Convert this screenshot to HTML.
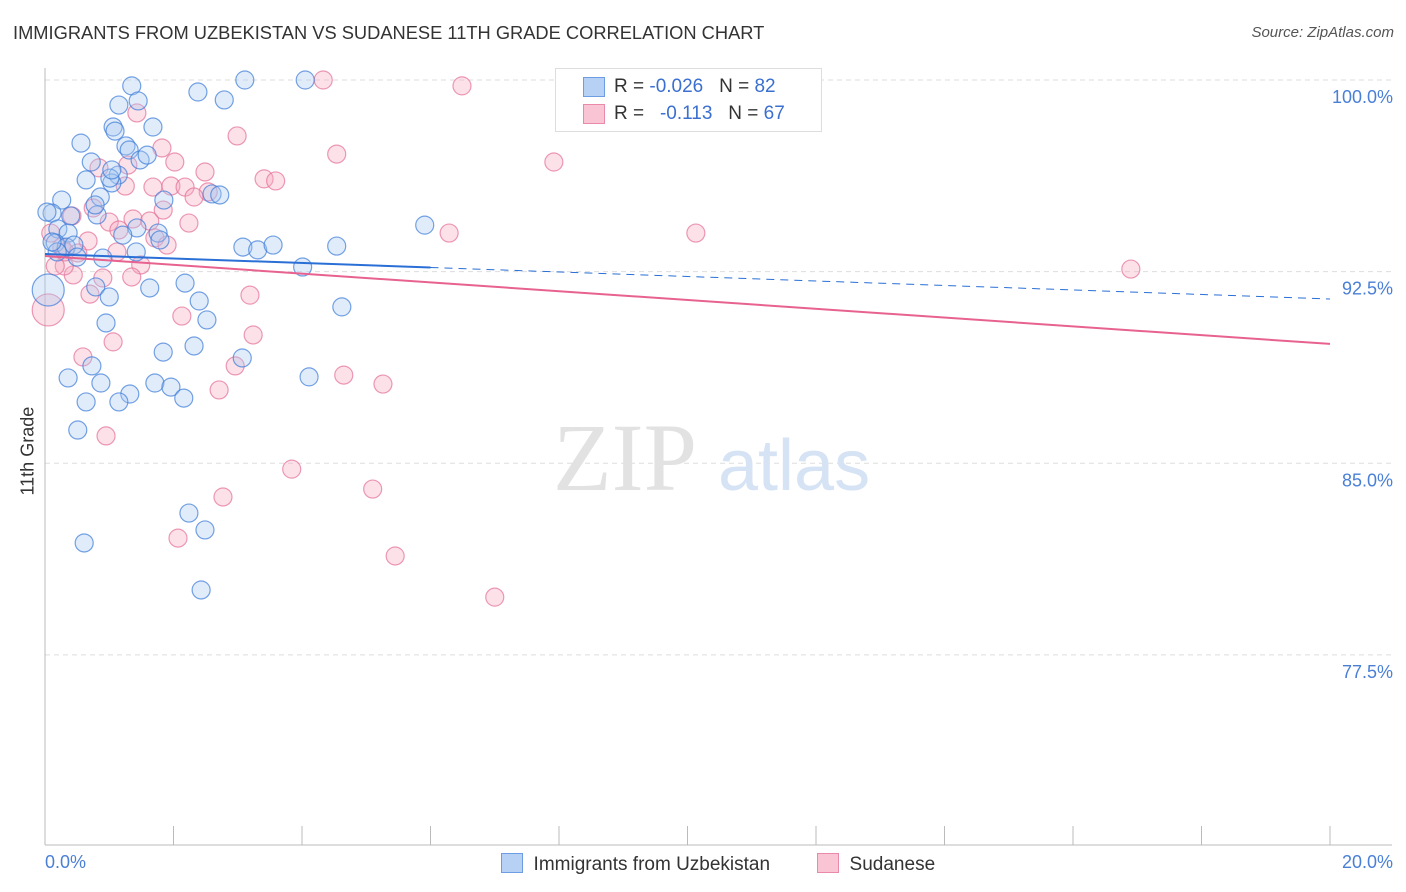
<!DOCTYPE html>
<html><head><meta charset="utf-8"><style>
body{margin:0;background:#fff;font-family:"Liberation Sans",sans-serif;}
#wrap{position:relative;width:1406px;height:892px;overflow:hidden;}
.t{position:absolute;white-space:nowrap;}
</style></head><body>
<div id="wrap">
<div class="t" style="left:13px;top:22px;font-size:18.3px;color:#333;">IMMIGRANTS FROM UZBEKISTAN VS SUDANESE 11TH GRADE CORRELATION CHART</div>
<div class="t" style="right:12px;top:24px;font-size:15px;color:#555;font-style:italic;">Source: ZipAtlas.com</div>
<svg id="svg" width="1406" height="892" style="position:absolute;left:0;top:0"></svg>
</div>
<script>
const xTicks=[0,2,4,6,8,10,12,14,16,18,20];
const yTicks=[100,92.5,85,77.5];
const yTickLabels=["100.0%","92.5%","85.0%","77.5%"];
const blueX=[1.35,2.38,2.79,3.11,4.05,1.45,1.15,1.06,1.09,1.68,0.56,1.26,1.31,1.48,1.59,0.72,1.14,1.04,0.64,0.86,1.85,2.60,2.72,0.26,0.11,0.81,0.40,1.43,1.76,1.21,0.20,0.36,0.16,0.33,0.45,0.19,0.50,0.90,1.42,3.08,3.31,3.55,4.54,5.91,4.01,2.18,2.40,1.63,0.79,1.00,2.52,0.95,4.62,1.84,2.32,3.07,0.73,0.36,0.87,1.71,1.96,1.32,1.15,2.16,0.64,4.11,0.51,0.61,2.24,2.49,2.43,0.03,0.11,0.05,0.78,1.01,1.04,1.79];
const blueY=[99.77,99.53,99.22,100.0,100.0,99.18,99.02,98.16,98.00,98.16,97.53,97.42,97.26,96.87,97.06,96.79,96.28,95.97,96.09,95.42,95.30,95.54,95.50,95.30,94.79,94.72,94.68,94.21,94.01,93.93,94.17,94.01,93.62,93.46,93.54,93.27,93.07,93.03,93.27,93.46,93.35,93.54,93.50,94.32,92.68,92.05,91.35,91.86,91.90,91.51,90.61,90.49,91.12,89.35,89.59,89.12,88.81,88.34,88.14,88.14,87.98,87.71,87.40,87.55,87.40,88.38,86.30,81.88,83.05,82.39,80.04,94.83,93.66,91.78,95.11,96.16,96.48,93.74];
const blueBig=[73];
const pinkX=[4.33,6.49,1.43,2.99,4.54,7.92,1.82,2.02,0.84,1.29,2.49,3.41,3.59,1.25,1.68,1.96,2.18,2.54,1.84,2.32,0.75,0.42,1.00,1.37,1.63,2.24,1.15,1.71,1.90,0.67,6.29,10.13,0.26,0.51,1.12,1.49,0.90,0.44,0.30,0.70,1.35,2.13,3.19,3.24,0.59,1.06,2.96,4.65,5.26,2.71,0.95,3.84,2.77,5.10,2.07,5.45,7.00,16.90,0.05,0.16,0.31,0.09];
const pinkY=[100.0,99.77,98.71,97.81,97.10,96.79,97.34,96.79,96.56,96.67,96.40,96.13,96.05,95.85,95.81,95.85,95.81,95.62,94.91,95.42,94.99,94.68,94.44,94.56,94.48,94.40,94.13,93.82,93.54,93.70,94.01,94.01,93.46,93.23,93.27,92.76,92.25,92.37,92.72,91.62,92.29,90.76,91.58,90.02,89.16,89.75,88.81,88.45,88.10,87.87,86.07,84.77,83.68,83.99,82.07,81.37,79.76,92.60,91.00,92.72,93.27,94.01];
const pinkBig=[58];
const blueTrend=[93.19,91.43];
const pinkTrend=[93.11,89.67];
const blueSolidEnd=6.0;

const X=v=>45+v/20*1285;
const Y=v=>80+(100-v)*25.55;
const svg=document.getElementById('svg');
const NS='http://www.w3.org/2000/svg';
function mk(tag,attrs,parent){const e=document.createElementNS(NS,tag);for(const k in attrs)e.setAttribute(k,attrs[k]);(parent||svg).appendChild(e);return e;}

yTicks.forEach((t,i)=>{
 const g=mk('line',{x1:45,x2:1392,y1:Y(t),y2:Y(t),stroke:'#ddd','stroke-dasharray':'5,4'});
 
 
 const tx=mk('text',{x:1393,y:Y(t)+23,'text-anchor':'end','font-size':18,fill:'#4a7fd6','font-family':'Liberation Sans, sans-serif'});
 tx.textContent=yTickLabels[i];
 
 
});
const ax=mk('line',{x1:45,x2:45,y1:68,y2:845,stroke:'#bbb'});


const bx=mk('line',{x1:45,x2:1392,y1:845,y2:845,stroke:'#bbb'});


xTicks.forEach(t=>{
 const l=mk('line',{x1:X(t),x2:X(t),y1:826,y2:845,stroke:'#bbb'});
 
 
});
const wm=mk('text',{x:553,y:490,'font-size':96,fill:'#e2e2e2','font-family':'Liberation Serif, serif'});wm.textContent='ZIP';


const wm2=mk('text',{x:718,y:490,'font-size':72,fill:'#d6e3f5','font-family':'Liberation Sans, sans-serif'});wm2.textContent='atlas';



function pts(xs,ys,big,fill,stroke,name){
 xs.forEach((x,i)=>{
  const r=big.includes(i)?16:9;
  const c=mk('circle',{cx:X(x),cy:Y(ys[i]),r:r,fill:fill,'fill-opacity':0.35,stroke:stroke,'stroke-opacity':0.7,'stroke-width':1.2});
  
  
 });
}
pts(pinkX,pinkY,pinkBig,'#f7a8c0','#e46f97','point-sudanese');
pts(blueX,blueY,blueBig,'#a9c8f2','#3b7ad8','point-uzbekistan');

const ty=(tr,x)=>tr[0]+(tr[1]-tr[0])*x/20;
const pl=mk('line',{x1:X(0),y1:Y(pinkTrend[0]),x2:X(20),y2:Y(pinkTrend[1]),stroke:'#e8628f','stroke-width':2});


const bl=mk('line',{x1:X(0),y1:Y(blueTrend[0]),x2:X(blueSolidEnd),y2:Y(ty(blueTrend,blueSolidEnd)),stroke:'#2a6fd6','stroke-width':2});


const bd=mk('line',{x1:X(blueSolidEnd),y1:Y(ty(blueTrend,blueSolidEnd)),x2:X(20),y2:Y(blueTrend[1]),stroke:'#2a6fd6','stroke-width':1,'stroke-dasharray':'8,6'});


</script>
<div class="t" style="left:-12px;top:445px;font-size:18px;color:#333;transform:rotate(-90deg);transform-origin:center;width:80px;text-align:center;">11th Grade</div>
<div class="t" style="left:45px;top:852px;font-size:18px;color:#4a7fd6;">0.0%</div>
<div class="t" style="right:13px;top:852px;font-size:18px;color:#4a7fd6;">20.0%</div>
<div style="position:absolute;left:555px;top:68px;width:265px;height:62px;border:1px solid #ddd;background:#fff;font-size:19px;color:#333;">
 <div style="position:absolute;left:27px;top:8px;width:20px;height:18px;background:#b7d1f5;border:1px solid #6d9de3;"></div>
 <div class="t" style="left:58px;top:7px;">R = <span style="color:#3b6fd0">-0.026</span> &nbsp;&nbsp;N = <span style="color:#3b6fd0">82</span></div>
 <div style="position:absolute;left:27px;top:35px;width:20px;height:18px;background:#f9c4d4;border:1px solid #e98aab;"></div>
 <div class="t" style="left:58px;top:34px;">R = &nbsp;&nbsp;<span style="color:#3b6fd0">-0.113</span> &nbsp;&nbsp;N = <span style="color:#3b6fd0">67</span></div>
</div>
<div style="position:absolute;left:501px;top:853px;font-size:19px;color:#333;">
 <span style="display:inline-block;width:20px;height:18px;background:#b7d1f5;border:1px solid #6d9de3;vertical-align:-3px;"></span>&nbsp; Immigrants from Uzbekistan</div>
<div style="position:absolute;left:817px;top:853px;font-size:19px;color:#333;">
 <span style="display:inline-block;width:20px;height:18px;background:#f9c4d4;border:1px solid #e98aab;vertical-align:-3px;"></span>&nbsp; Sudanese</div>
</body></html>
